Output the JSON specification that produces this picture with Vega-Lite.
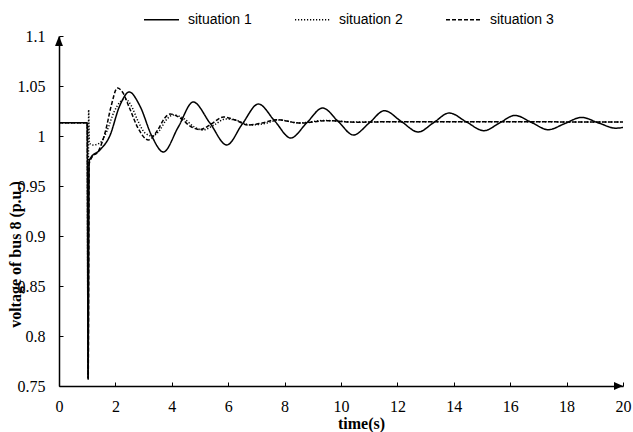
{
  "$schema": "https://vega.github.io/schema/vega-lite/v6.json",
  "autosize": "none",
  "width": 564,
  "height": 350,
  "padding": {"left": 59, "top": 36, "right": 10, "bottom": 46},
  "background": "white",
  "config": {
    "view": {"stroke": null},
    "font": "Liberation Serif",
    "axis": {"labelFont": "Liberation Serif", "titleFont": "Liberation Serif"}
  },
  "datasets": {
    "curves": [
      {"s": "situation 1", "t": 0, "v": 1.0133},
      {"s": "situation 1", "t": 1.0, "v": 1.0133},
      {"s": "situation 1", "t": 1.03, "v": 0.757},
      {"s": "situation 1", "t": 1.07, "v": 0.975},
      {"s": "situation 1", "t": 1.12, "v": 0.978},
      {"s": "situation 1", "t": 1.45, "v": 0.986},
      {"s": "situation 1", "t": 1.8, "v": 1.0},
      {"s": "situation 1", "t": 2.15, "v": 1.03},
      {"s": "situation 1", "t": 2.49, "v": 1.044},
      {"s": "situation 1", "t": 2.87, "v": 1.03},
      {"s": "situation 1", "t": 3.29, "v": 1.0},
      {"s": "situation 1", "t": 3.7, "v": 0.984},
      {"s": "situation 1", "t": 4.23, "v": 1.009},
      {"s": "situation 1", "t": 4.76, "v": 1.034},
      {"s": "situation 1", "t": 5.35, "v": 1.013},
      {"s": "situation 1", "t": 5.95, "v": 0.991},
      {"s": "situation 1", "t": 6.5, "v": 1.012},
      {"s": "situation 1", "t": 7.07, "v": 1.032},
      {"s": "situation 1", "t": 7.65, "v": 1.015},
      {"s": "situation 1", "t": 8.22, "v": 0.998},
      {"s": "situation 1", "t": 8.78, "v": 1.013},
      {"s": "situation 1", "t": 9.35, "v": 1.028},
      {"s": "situation 1", "t": 9.9, "v": 1.0145},
      {"s": "situation 1", "t": 10.44, "v": 1.001},
      {"s": "situation 1", "t": 11.0, "v": 1.013},
      {"s": "situation 1", "t": 11.54, "v": 1.0253},
      {"s": "situation 1", "t": 12.14, "v": 1.0145},
      {"s": "situation 1", "t": 12.74, "v": 1.004},
      {"s": "situation 1", "t": 13.29, "v": 1.0135},
      {"s": "situation 1", "t": 13.84, "v": 1.023},
      {"s": "situation 1", "t": 14.45, "v": 1.014},
      {"s": "situation 1", "t": 15.07, "v": 1.0053},
      {"s": "situation 1", "t": 15.62, "v": 1.013},
      {"s": "situation 1", "t": 16.17, "v": 1.0206},
      {"s": "situation 1", "t": 16.76, "v": 1.0135},
      {"s": "situation 1", "t": 17.35, "v": 1.0063},
      {"s": "situation 1", "t": 17.94, "v": 1.0125},
      {"s": "situation 1", "t": 18.53, "v": 1.0186},
      {"s": "situation 1", "t": 19.14, "v": 1.013},
      {"s": "situation 1", "t": 19.75, "v": 1.0078},
      {"s": "situation 1", "t": 20, "v": 1.0086},

      {"s": "situation 2", "t": 0, "v": 1.0133},
      {"s": "situation 2", "t": 1.0, "v": 1.0133},
      {"s": "situation 2", "t": 1.03, "v": 0.758},
      {"s": "situation 2", "t": 1.05, "v": 1.026},
      {"s": "situation 2", "t": 1.08, "v": 0.993},
      {"s": "situation 2", "t": 1.2, "v": 0.991},
      {"s": "situation 2", "t": 1.45, "v": 0.993},
      {"s": "situation 2", "t": 1.7, "v": 1.005},
      {"s": "situation 2", "t": 1.95, "v": 1.024},
      {"s": "situation 2", "t": 2.2, "v": 1.035},
      {"s": "situation 2", "t": 2.35, "v": 1.037},
      {"s": "situation 2", "t": 2.55, "v": 1.031},
      {"s": "situation 2", "t": 2.8, "v": 1.015},
      {"s": "situation 2", "t": 3.05, "v": 1.003},
      {"s": "situation 2", "t": 3.3, "v": 1.0},
      {"s": "situation 2", "t": 3.55, "v": 1.005},
      {"s": "situation 2", "t": 3.8, "v": 1.016},
      {"s": "situation 2", "t": 4.05, "v": 1.021},
      {"s": "situation 2", "t": 4.4, "v": 1.018},
      {"s": "situation 2", "t": 4.8, "v": 1.009},
      {"s": "situation 2", "t": 5.1, "v": 1.006},
      {"s": "situation 2", "t": 5.5, "v": 1.011},
      {"s": "situation 2", "t": 5.9, "v": 1.017},
      {"s": "situation 2", "t": 6.25, "v": 1.016},
      {"s": "situation 2", "t": 6.8, "v": 1.011},
      {"s": "situation 2", "t": 7.3, "v": 1.0125},
      {"s": "situation 2", "t": 7.8, "v": 1.016},
      {"s": "situation 2", "t": 8.5, "v": 1.013},
      {"s": "situation 2", "t": 9.4, "v": 1.0155},
      {"s": "situation 2", "t": 10.5, "v": 1.014},
      {"s": "situation 2", "t": 12, "v": 1.0143},
      {"s": "situation 2", "t": 20, "v": 1.014},

      {"s": "situation 3", "t": 0, "v": 1.0133},
      {"s": "situation 3", "t": 1.0, "v": 1.0133},
      {"s": "situation 3", "t": 1.035, "v": 0.757},
      {"s": "situation 3", "t": 1.07, "v": 0.972},
      {"s": "situation 3", "t": 1.15, "v": 0.978},
      {"s": "situation 3", "t": 1.4, "v": 0.985},
      {"s": "situation 3", "t": 1.65, "v": 1.005},
      {"s": "situation 3", "t": 1.85, "v": 1.03},
      {"s": "situation 3", "t": 2.07, "v": 1.048},
      {"s": "situation 3", "t": 2.25, "v": 1.044},
      {"s": "situation 3", "t": 2.5, "v": 1.028},
      {"s": "situation 3", "t": 2.8, "v": 1.008},
      {"s": "situation 3", "t": 3.17, "v": 0.996},
      {"s": "situation 3", "t": 3.5, "v": 1.006},
      {"s": "situation 3", "t": 3.75, "v": 1.018},
      {"s": "situation 3", "t": 3.94, "v": 1.022},
      {"s": "situation 3", "t": 4.3, "v": 1.018},
      {"s": "situation 3", "t": 4.7, "v": 1.009},
      {"s": "situation 3", "t": 5.0, "v": 1.0065},
      {"s": "situation 3", "t": 5.4, "v": 1.012},
      {"s": "situation 3", "t": 5.83, "v": 1.019},
      {"s": "situation 3", "t": 6.25, "v": 1.016},
      {"s": "situation 3", "t": 6.71, "v": 1.011},
      {"s": "situation 3", "t": 7.2, "v": 1.013},
      {"s": "situation 3", "t": 7.72, "v": 1.0163},
      {"s": "situation 3", "t": 8.55, "v": 1.013},
      {"s": "situation 3", "t": 9.5, "v": 1.0153},
      {"s": "situation 3", "t": 10.5, "v": 1.0138},
      {"s": "situation 3", "t": 12, "v": 1.0143},
      {"s": "situation 3", "t": 20, "v": 1.014}
    ],
    "arrows": [
      {"dir": "up", "t": 0, "v": 1.1},
      {"dir": "right", "t": 20, "v": 0.75}
    ]
  },
  "layer": [
    {
      "data": {"name": "curves"},
      "mark": {"type": "line", "interpolate": "monotone", "color": "black", "strokeWidth": 1.5},
      "encoding": {
        "x": {
          "field": "t", "type": "quantitative",
          "scale": {"domain": [0, 20], "nice": false, "zero": false},
          "axis": {
            "values": [0, 2, 4, 6, 8, 10, 12, 14, 16, 18, 20],
            "format": "d",
            "grid": false,
            "domainColor": "black", "domainWidth": 1.5,
            "tickColor": "black", "tickSize": -4, "tickWidth": 1,
            "labelFont": "Liberation Serif", "labelFontSize": 16, "labelColor": "black",
            "labelPadding": 16, "labelFlush": false,
            "title": "time(s)",
            "titleFont": "Liberation Serif", "titleFontSize": 16, "titleFontWeight": "bold", "titleColor": "black",
            "titleX": 302, "titleY": 42, "titleBaseline": "alphabetic", "titleAlign": "center"
          }
        },
        "y": {
          "field": "v", "type": "quantitative",
          "scale": {"domain": [0.75, 1.1], "nice": false, "zero": false},
          "axis": {
            "values": [0.75, 0.8, 0.85, 0.9, 0.95, 1, 1.05, 1.1],
            "format": "~g",
            "grid": false,
            "domainColor": "black", "domainWidth": 1.5,
            "tickColor": "black", "tickSize": -4, "tickWidth": 1,
            "labelFont": "Liberation Serif", "labelFontSize": 16, "labelColor": "black",
            "labelPadding": 18, "labelFlush": false,
            "title": "voltage of bus 8 (p.u.)",
            "titleFont": "Liberation Serif", "titleFontSize": 16, "titleFontWeight": "bold", "titleColor": "black",
            "titleX": -39, "titleY": 218, "titleAngle": -90, "titleBaseline": "alphabetic", "titleAlign": "center"
          }
        },
        "detail": {"field": "s"},
        "strokeDash": {
          "field": "s", "type": "nominal",
          "scale": {"domain": ["situation 1", "situation 2", "situation 3"], "range": [[1, 0], [1.2, 1.8], [4, 2]]},
          "legend": {
            "title": null,
            "orient": "none", "direction": "horizontal",
            "legendX": 84, "legendY": -35,
            "symbolType": "stroke", "symbolSize": 1225, "symbolStrokeColor": "black", "symbolStrokeWidth": 1.5,
            "labelFont": "Liberation Sans", "labelFontSize": 14, "labelColor": "black",
            "labelOffset": 8, "columnPadding": 40
          }
        }
      }
    },
    {
      "data": {"name": "arrows"},
      "mark": {"type": "point", "filled": true, "color": "black", "opacity": 1, "size": 324},
      "encoding": {
        "x": {"field": "t", "type": "quantitative"},
        "y": {"field": "v", "type": "quantitative"},
        "shape": {
          "field": "dir", "type": "nominal",
          "scale": {"domain": ["up", "right"], "range": ["M0,0L0.44,1.1L-0.44,1.1Z", "M0,0L-1,-0.44L-1,0.44Z"]},
          "legend": null
        }
      }
    }
  ]
}
